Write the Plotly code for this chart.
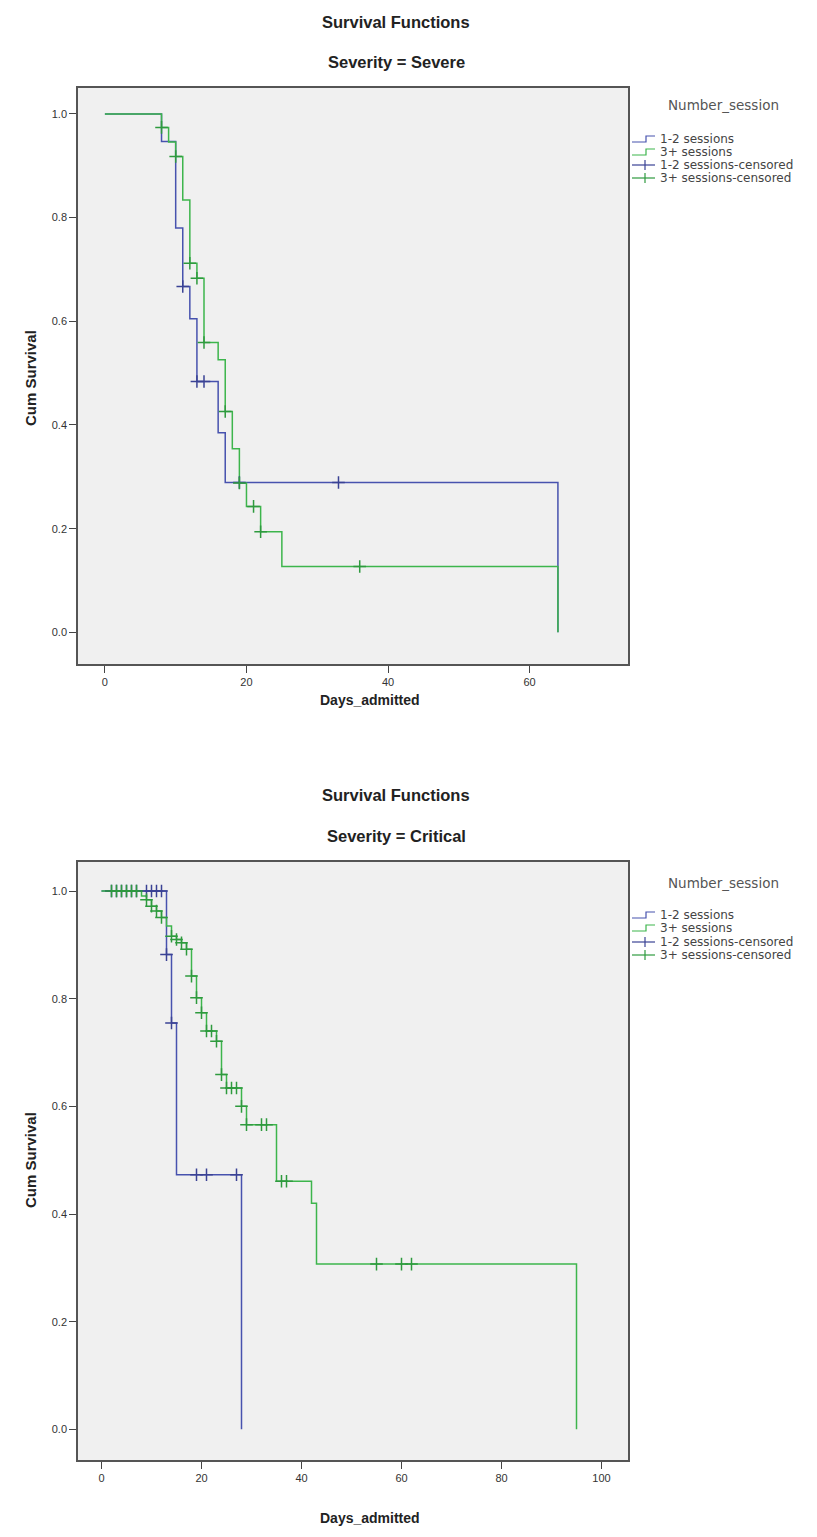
import plotly.graph_objects as go

# ---------------- data ----------------
# Severity = Severe
sev_12_time = [0, 8, 10, 11, 12, 13, 16, 17, 64]
sev_12_surv = [1.0, 0.947, 0.780, 0.667, 0.605, 0.484, 0.385, 0.289, 0.0]
sev_12_cens = [11, 13, 14, 19, 33]

sev_3p_time = [0, 8, 9, 10, 11, 12, 13, 14, 16, 17, 18, 19, 20, 22, 25, 64]
sev_3p_surv = [1.0, 0.974, 0.946, 0.918, 0.834, 0.712, 0.683, 0.559, 0.526,
               0.426, 0.354, 0.288, 0.243, 0.194, 0.127, 0.0]
sev_3p_cens = [8, 10, 12, 13, 14, 17, 19, 21, 22, 36]

# Severity = Critical
crit_12_time = [0, 13, 14, 15, 28]
crit_12_surv = [1.0, 0.882, 0.755, 0.473, 0.0]
crit_12_cens = [2, 3, 4, 5, 6, 7, 9, 10, 11, 12, 13, 14, 19, 21, 27]

crit_3p_time = [0, 8, 9, 10, 11, 12, 13, 14, 15, 16, 17, 18, 19, 20, 21, 23,
                24, 25, 28, 29, 35, 42, 43, 95]
crit_3p_surv = [1.0, 0.991, 0.984, 0.972, 0.963, 0.951, 0.935, 0.916, 0.910,
                0.904, 0.892, 0.842, 0.802, 0.774, 0.740, 0.721, 0.659, 0.634,
                0.600, 0.566, 0.461, 0.420, 0.307, 0.0]
crit_3p_cens = [2, 3, 4, 5, 6, 7, 9, 10, 11, 12, 14, 15, 16, 17, 18, 19, 20,
                21, 22, 23, 24, 25, 26, 27, 28, 29, 32, 33, 36, 37, 55, 60, 62]

y_ticks = [0.0, 0.2, 0.4, 0.6, 0.8, 1.0]
x_ticks_top = [0, 20, 40, 60]
x_ticks_bot = [0, 20, 40, 60, 80, 100]
legend_labels = ["1-2 sessions", "3+ sessions", "1-2 sessions-censored", "3+ sessions-censored"]

# ---------------- style ----------------
OFF = 8  # default page body margin
W, H = 817 - 2 * OFF, 1537 - 2 * OFF
BLUE = "#4752ae"
GREEN = "#3db54c"
BLUE_D = "#3a4294"
GREEN_D = "#2e9a3e"
FONT = "Liberation Sans"
LFONT = "DejaVu Sans"


def px(x):
    return (x - OFF) / W


def py(y):
    return 1 - (y - OFF) / H


def surv_at(times, survs, t):
    val = survs[0]
    for tt, ss in zip(times, survs):
        if tt <= t:
            val = ss
    return val


fig = go.Figure()


def add_panel(xa, ya, t12, s12, c12, t3, s3, c3):
    fig.add_trace(go.Scatter(x=t12, y=s12, mode="lines", line=dict(color=BLUE, width=1.5, shape="hv"),
                             xaxis=xa, yaxis=ya, showlegend=False, name="1-2 sessions"))
    fig.add_trace(go.Scatter(x=t3, y=s3, mode="lines", line=dict(color=GREEN, width=1.5, shape="hv"),
                             xaxis=xa, yaxis=ya, showlegend=False, name="3+ sessions"))
    fig.add_trace(go.Scatter(x=c12, y=[surv_at(t12, s12, t) for t in c12], mode="markers",
                             marker=dict(symbol="cross-thin", size=9, line=dict(color=BLUE_D, width=1.5)),
                             xaxis=xa, yaxis=ya, showlegend=False, name="1-2 sessions-censored"))
    fig.add_trace(go.Scatter(x=c3, y=[surv_at(t3, s3, t) for t in c3], mode="markers",
                             marker=dict(symbol="cross-thin", size=9, line=dict(color=GREEN_D, width=1.5)),
                             xaxis=xa, yaxis=ya, showlegend=False, name="3+ sessions-censored"))


add_panel("x", "y", sev_12_time, sev_12_surv, sev_12_cens, sev_3p_time, sev_3p_surv, sev_3p_cens)
add_panel("x2", "y2", crit_12_time, crit_12_surv, crit_12_cens, crit_3p_time, crit_3p_surv, crit_3p_cens)

axis_common = dict(showgrid=False, zeroline=False, showline=True, linecolor="#555555", linewidth=1.5,
                   mirror=True, ticks="outside", ticklen=7, tickcolor="#444444", tickwidth=1.2,
                   tickfont=dict(family=FONT, size=11, color="#333333"))

fig.update_layout(
    width=W, height=H,
    margin=dict(l=0, r=0, t=0, b=0),
    paper_bgcolor="white",
    plot_bgcolor="#f0f0f0",
    showlegend=False,
    xaxis=dict(domain=[px(78), px(628)], range=[-3.8, 73.9], tickvals=x_ticks_top,
               ticktext=[str(v) for v in x_ticks_top], anchor="y", **axis_common),
    yaxis=dict(domain=[py(664), py(88)], range=[-0.061, 1.050], tickvals=y_ticks,
               ticktext=[f"{v:.1f}" for v in y_ticks], anchor="x", **axis_common),
    xaxis2=dict(domain=[px(78), px(628)], range=[-4.7, 105.3], tickvals=x_ticks_bot,
                ticktext=[str(v) for v in x_ticks_bot], anchor="y2", **axis_common),
    yaxis2=dict(domain=[py(1460), py(862)], range=[-0.057, 1.054], tickvals=y_ticks,
                ticktext=[f"{v:.1f}" for v in y_ticks], anchor="x2", **axis_common),
)

ann = []
shapes = []


def text(x, y, s, size=15, bold=True, color="#222222", angle=0, xanchor="center", family=FONT):
    ann.append(dict(x=px(x), y=py(y), xref="paper", yref="paper", text=(f"<b>{s}</b>" if bold else s),
                    showarrow=False, textangle=angle, xanchor=xanchor, yanchor="middle",
                    font=dict(family=family, size=size, color=color)))


# titles
text(396, 22, "Survival Functions", size=16.5)
text(396, 62, "Severity = Severe", size=16.5)
text(396, 795, "Survival Functions", size=16.5)
text(396, 836, "Severity = Critical", size=16.5)
# axis titles
text(370, 700, "Days_admitted", size=14)
text(370, 1518, "Days_admitted", size=14)
text(30, 378, "Cum Survival", size=15, angle=-90)
text(30, 1160, "Cum Survival", size=15, angle=-90)


def legend(y_title, y_items):
    text(723, y_title, "Number_session", size=13.5, bold=False, color="#555555", family=LFONT)
    cols = [BLUE, GREEN, BLUE_D, GREEN_D]
    for i, (lab, yy) in enumerate(zip(legend_labels, y_items)):
        text(658, yy, lab, size=12, bold=False, color="#444444", xanchor="left", family=LFONT)
        if i < 2:
            path = (f"M {px(632)} {py(yy + 3)} L {px(646)} {py(yy + 3)} L {px(646)} {py(yy - 3)} "
                    f"L {px(655)} {py(yy - 3)}")
            shapes.append(dict(type="path", xref="paper", yref="paper", path=path,
                               line=dict(color=cols[i], width=1.2)))
        else:
            shapes.append(dict(type="line", xref="paper", yref="paper", x0=px(632), x1=px(655),
                               y0=py(yy), y1=py(yy), line=dict(color=cols[i], width=1.2)))
            shapes.append(dict(type="line", xref="paper", yref="paper", x0=px(645), x1=px(645),
                               y0=py(yy - 5), y1=py(yy + 5), line=dict(color=cols[i], width=1.2)))


legend(105, [139, 152, 165, 178])
legend(883, [915, 928, 942, 955])

fig.update_layout(annotations=ann, shapes=shapes)
fig.write_html("out.html")
